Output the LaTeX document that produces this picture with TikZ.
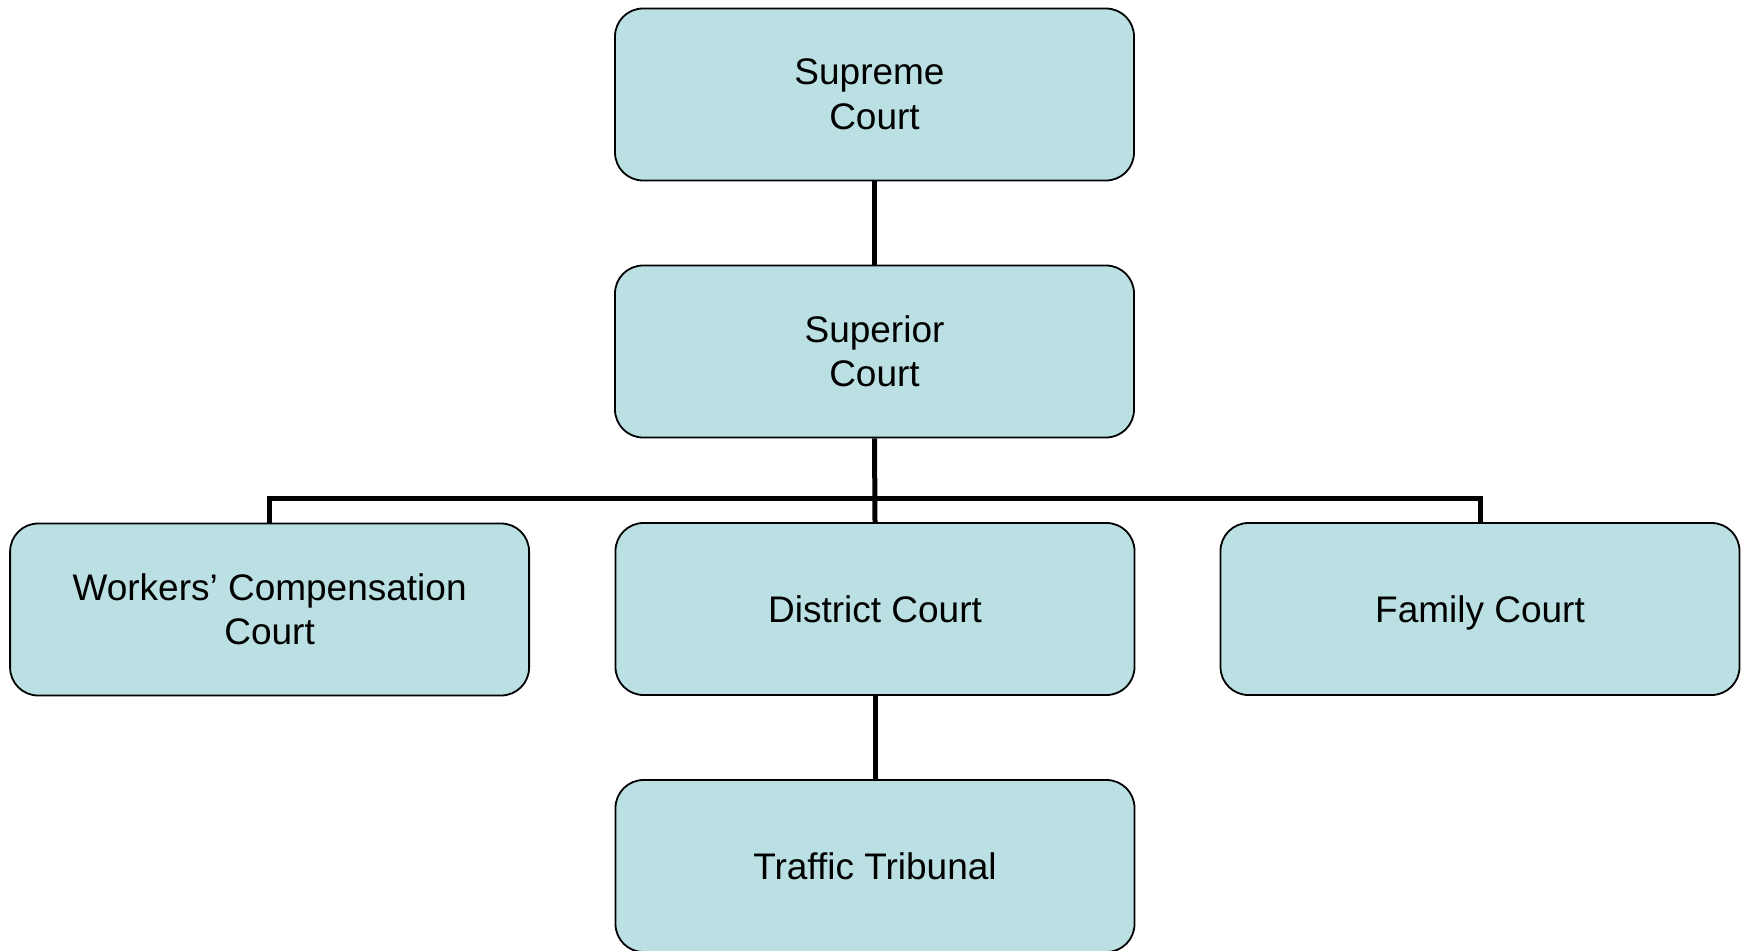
\documentclass[tikz,border=0pt]{standalone}
\usepackage{fontspec}
\setmainfont{Liberation Sans}
\definecolor{boxfill}{RGB}{186,224,227}
\begin{document}
\begin{tikzpicture}[x=1pt,y=-1pt,
  court/.style={draw=black,line width=1.8pt,fill=boxfill,rounded corners=28pt,
    minimum width=519pt,minimum height=172pt,inner sep=0pt,align=center,
    font=\fontsize{37}{44.5}\selectfont},
  link/.style={draw=black,line width=5pt}]
\useasboundingbox (0,0) rectangle (1747,950);
\node[court] (supreme) at (874.5,94.5) {Supreme\kern10pt\\Court};
\node[court] (superior) at (874.5,351.5) {Superior\\Court};
\node[court] (workers) at (269.6,609.5) {Workers’ Compensation\\Court};
\node[court,text depth=0pt] (district) at (875,609) {District Court};
\node[court,text depth=0pt] (family) at (1480,609) {Family Court};
\node[court,text depth=0pt] (traffic) at (875,866) {Traffic Tribunal};
\coordinate (bus) at (875,498);
\draw[link] (supreme.south) -- (superior.north);
\draw[link] (superior.south) -- (district.north);
\draw[link] (workers.north) |- (bus) -| (family.north);
\draw[link] (district.south) -- (traffic.north);
\end{tikzpicture}
\end{document}
